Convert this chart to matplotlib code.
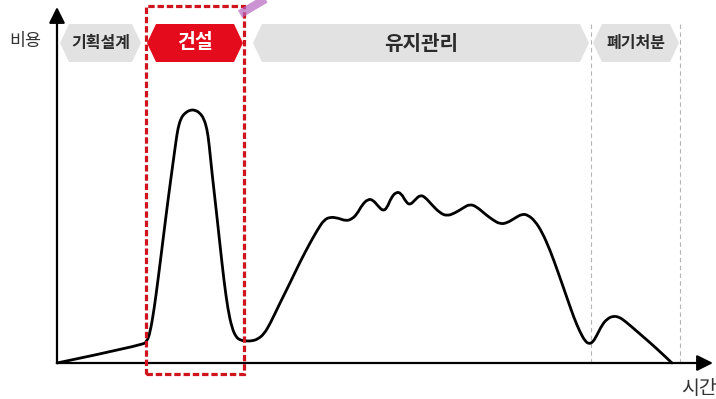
import matplotlib
matplotlib.use("Agg")
import matplotlib.pyplot as plt
from matplotlib.patches import Polygon, Rectangle, FancyArrowPatch, PathPatch
from matplotlib.path import Path

plt.rcParams['font.family'] = ['Noto Sans CJK KR', 'DejaVu Sans']

# Life-cycle cost curve: time vs. cost (cost 0 on the time axis)
time = [0, 86, 90, 93, 97, 101, 106, 111, 116, 119, 121, 124, 128, 133, 138, 143, 147,
        150, 152, 155, 159, 163, 167, 171, 175, 179, 183, 188, 195, 201, 207, 213, 223,
        233, 243, 253, 261, 267, 273, 281, 289, 295, 300, 305, 311, 316, 321, 326,
        330, 334, 339, 344, 349, 353, 358, 363, 368, 375, 383, 390, 398, 406, 413,
        420, 428, 436, 443, 450, 458, 465, 471, 478, 485, 493, 501, 509, 517, 523,
        528, 532, 536, 540, 545, 550, 556, 562, 568, 583, 598, 615]
cost = [0, 18, 22, 30, 53, 83, 123, 163, 200, 222, 235, 245, 250, 253, 253, 250, 244,
        234, 220, 190, 155, 118, 82, 53, 35, 26, 23, 22, 22, 24, 29, 39, 60,
        80, 101, 120, 134, 143, 146, 145, 142, 144, 149, 158, 164, 163, 157, 152,
        155, 165, 171, 170, 161, 158, 163, 168, 166, 158, 150, 147, 150, 155, 159,
        156, 149, 143, 139, 140, 145, 149, 148, 142, 131, 113, 91, 68, 45, 31,
        22, 19, 21, 28, 38, 44, 47, 46, 42, 29, 16, 0]

# Life-cycle phases and their spans on the time axis
phase_names = ['기획설계', '건설', '유지관리', '폐기처분']
phase_start = [3, 90, 196, 536]
phase_end = [84, 186, 532, 622]
phase_fill = ['#e2e2e2', '#e30b1c', '#e2e2e2', '#e2e2e2']
phase_text = ['#2b2b2b', '#ffffff', '#2b2b2b', '#2b2b2b']
phase_size = [11.5, 14, 14.5, 11.5]
guide_times = [534, 623]
highlight = (89, 187)

fig = plt.figure(figsize=(7.16, 3.99), dpi=100)
ax = fig.add_axes([0, 0, 1, 1])
ax.set_xlim(-57, 659)
ax.set_ylim(-36, 363)
ax.axis('off')

# phase banners (hexagonal tags)
band_lo, band_hi = 301, 339
band_mid = (band_lo + band_hi) / 2
for name, s, e, fc, tc, fs in zip(phase_names, phase_start, phase_end,
                                  phase_fill, phase_text, phase_size):
    tip = 9
    pts = [(s, band_mid), (s + tip, band_hi), (e - tip, band_hi), (e, band_mid),
           (e - tip, band_lo), (s + tip, band_lo)]
    ax.add_patch(Polygon(pts, closed=True, facecolor=fc, edgecolor='none', zorder=2))
    ax.text((s + e) / 2, band_mid, name, ha='center', va='center', fontsize=fs,
            color=tc, fontweight='bold', zorder=3)

# dashed guides for the disposal phase
for g in guide_times:
    ax.plot([g, g], [0, 341], color='#b5b5b5', lw=0.8, ls=(0, (4, 3)), zorder=1)

# axes with arrows
arrow_kw = dict(arrowstyle='-|>,head_length=6,head_width=3', mutation_scale=1.6,
                color='black', lw=1.6, zorder=4, shrinkA=0, shrinkB=0)
ax.add_patch(FancyArrowPatch((0, 0), (0, 356), **arrow_kw))
ax.add_patch(FancyArrowPatch((0, 0), (656, 0), **arrow_kw))
ax.text(-32, 322, '비용', ha='center', va='center', fontsize=12.5, color='#333333')
ax.text(624, -25, '시간', ha='left', va='center', fontsize=14, color='#333333')

# cost curve, drawn as a smooth quadratic path through the readings
pts = list(zip(time, cost))
verts = [pts[0]]
codes = [Path.MOVETO]
for i in range(1, len(pts) - 1):
    mid = ((pts[i][0] + pts[i + 1][0]) / 2, (pts[i][1] + pts[i + 1][1]) / 2)
    verts += [pts[i], mid]
    codes += [Path.CURVE3, Path.CURVE3]
verts.append(pts[-1])
codes.append(Path.LINETO)
ax.add_patch(PathPatch(Path(verts, codes), fill=False, edgecolor='black', lw=2.0,
                       joinstyle='round', capstyle='round', zorder=5))

# highlight of the construction phase
ax.add_patch(Rectangle((highlight[0], -11), highlight[1] - highlight[0], 368,
                       fill=False, edgecolor='#d0141e', lw=2.3,
                       linestyle=(0, (2.0, 0.9)), zorder=6))
ax.plot([183, 222], [349, 372], color='#b565c0', lw=6, alpha=0.7,
        solid_capstyle='butt', zorder=7)

fig.savefig('out.png', dpi=100)
